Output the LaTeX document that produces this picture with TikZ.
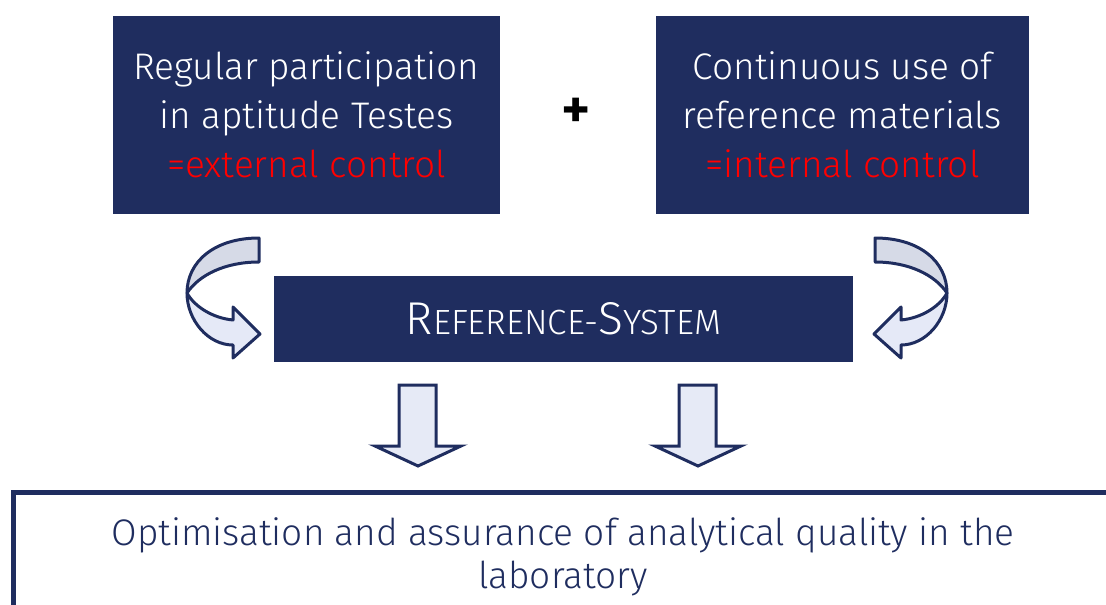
\documentclass[tikz,border=0pt]{standalone}
\usepackage{fontspec}
\setmainfont{Fira Sans Light}
\usetikzlibrary{positioning}
\definecolor{navy}{HTML}{1F2D5F}
\definecolor{bandA}{HTML}{D6DAE7}
\definecolor{bandB}{HTML}{E5E9F7}
\definecolor{arrfill}{HTML}{E6EAF6}
\definecolor{brightred}{HTML}{FF0000}
\tikzset{
  navybox/.style={fill=navy, draw=none, text=white, align=center, inner sep=0pt,
    font=\fontsize{37}{49}\selectfont},
  ribbon/.style={draw=navy, line width=3pt, line join=round},
  downarrow/.style={draw=navy, fill=arrfill, line width=3pt, line join=miter},
  frame/.style={draw=navy, line width=5pt, inner sep=0pt},
}
\newcommand{\curvedribbon}{%
  \path[ribbon, fill=bandA] (259,238) .. controls (214,238) and (187,262) .. (187,293)
     .. controls (199,275) and (225,262) .. (259,262) -- cycle;
  \path[ribbon, fill=bandB] (187,293) .. controls (187,320) and (208,345) .. (233,345)
     -- (233,358) -- (260,334) -- (233,307) -- (233,320)
     .. controls (212,318) and (194,306) .. (187,293) -- cycle;
}
\begin{document}
\begin{tikzpicture}[x=1pt,y=-1pt]
\useasboundingbox (0,0) rectangle (1106,605);
\clip (0,0) rectangle (1106,605);

\node[navybox, minimum width=387pt, minimum height=198pt] (ext) at (306.5,115)
  {Regular participation\\in aptitude Testes\\\textcolor{brightred}{=external control}};
\node[navybox, minimum width=373pt, minimum height=198pt] (int) at (842.5,115)
  {Continuous use of\\reference materials\\\textcolor{brightred}{=internal control}};
\node[font=\fontsize{56}{56}\selectfont\bfseries, inner sep=0pt] (plus) at (576,113) {+};

\node[navybox, minimum width=579pt, minimum height=86pt] (ref) at (563.5,319)
  {{\fontsize{46}{46}\selectfont R}{\fontsize{35}{35}\selectfont EFERENCE-}{\fontsize{46}{46}\selectfont S}{\fontsize{35}{35}\selectfont YSTEM}};

% curved arrows
\curvedribbon
\begin{scope}[xshift=1134pt, xscale=-1]
\curvedribbon
\end{scope}

% down arrows
\path[downarrow] (399,385) -- (436,385) -- (436,446) -- (461,446) -- (418,466)
  -- (375,446) -- (399,446) -- cycle;
\path[downarrow] (679,385) -- (716,385) -- (716,446) -- (741,446) -- (698,466)
  -- (655,446) -- (679,446) -- cycle;

% bottom frame
\node[frame, minimum width=1117pt, minimum height=148pt] (bottom) at (571.5,566) {};
\node[text=navy, align=center, font=\fontsize{37}{43}\selectfont] (quality) at (563,557)
  {Optimisation and assurance of analytical quality in the\\laboratory};
\end{tikzpicture}
\end{document}
